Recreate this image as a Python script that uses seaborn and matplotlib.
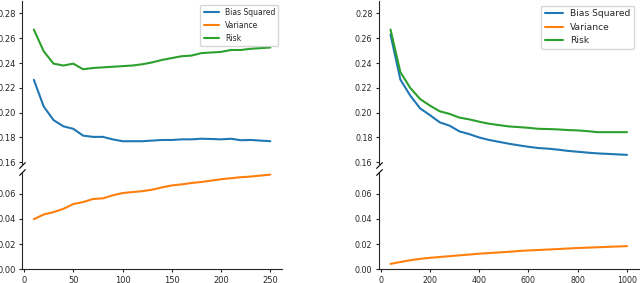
import numpy as np
import pandas as pd
import matplotlib
matplotlib.use("Agg")
import matplotlib.pyplot as plt
import seaborn as sns

sns.set_style("ticks")
plt.rcParams["font.family"] = ["DejaVu Sans"]

# left panel: x = 10..250
x_left = list(range(10, 251, 10))
bias_left = [0.2265, 0.205, 0.194, 0.189, 0.187, 0.1815, 0.1805, 0.1805, 0.1785, 0.177,
             0.177, 0.177, 0.1775, 0.178, 0.178, 0.1785, 0.1785, 0.179, 0.1788, 0.1785,
             0.179, 0.1778, 0.178, 0.1775, 0.177]
var_left = [0.0398, 0.0435, 0.0454, 0.048, 0.0518, 0.0534, 0.0558, 0.0563, 0.0587, 0.0605,
            0.0613, 0.062, 0.0632, 0.065, 0.0666, 0.0674, 0.0685, 0.0693, 0.0704, 0.0715,
            0.0723, 0.0731, 0.0736, 0.0744, 0.0752]
risk_left = [0.267, 0.2495, 0.2395, 0.238, 0.2395, 0.235, 0.236, 0.2365, 0.237, 0.2375,
             0.238, 0.239, 0.2405, 0.2425, 0.244, 0.2455, 0.246, 0.248, 0.2485, 0.249,
             0.2505, 0.2505, 0.2515, 0.252, 0.2525]

# right panel: x = 40..1000
x_right = list(range(40, 1001, 40))
bias_right = [0.263, 0.2267, 0.2138, 0.2035, 0.198, 0.1922, 0.1895, 0.1849, 0.1827, 0.180,
              0.178, 0.1765, 0.175, 0.1737, 0.1725, 0.1715, 0.171, 0.1702, 0.1692, 0.1685,
              0.1678, 0.1672, 0.1668, 0.1664, 0.166]
var_right = [0.0043, 0.0058, 0.0072, 0.0083, 0.0091, 0.0098, 0.0104, 0.0111, 0.0117, 0.0124,
             0.0129, 0.0134, 0.0139, 0.0145, 0.015, 0.0153, 0.0157, 0.0161, 0.0165, 0.0169,
             0.0172, 0.0175, 0.0178, 0.0181, 0.0184]
risk_right = [0.267, 0.2327, 0.22, 0.211, 0.2057, 0.2011, 0.199, 0.196, 0.1946, 0.1927,
              0.1911, 0.19, 0.1889, 0.1884, 0.1878, 0.187, 0.1868, 0.1865, 0.186, 0.1857,
              0.1851, 0.1843, 0.1843, 0.1843, 0.1843]

labels = ["Bias Squared", "Variance", "Risk"]
colors = sns.color_palette("tab10")[:3]

fig = plt.figure(figsize=(6.4, 2.83), dpi=100)

panels = [
    (x_left, [bias_left, var_left, risk_left], 0.0344, [0, 50, 100, 150, 200, 250], 6.0, 5.5),
    (x_right, [bias_right, var_right, risk_right], 0.5917, [0, 200, 400, 600, 800, 1000], 5.7, 6.6),
]

for xs, series, left, xticks, tick_fs, leg_fs in panels:
    ax_top = fig.add_axes([left, 0.4155, 0.4065, 0.581])
    ax_bot = fig.add_axes([left, 0.0484, 0.4065, 0.345], sharex=ax_top)

    for ax in (ax_top, ax_bot):
        for ys, lab, c in zip(series, labels, colors):
            sns.lineplot(x=xs, y=ys, color=c, label=lab, linewidth=1.5, ax=ax)
        ax.tick_params(labelsize=tick_fs, length=2.5, width=0.8, pad=2)
        sns.despine(ax=ax)

    ax_top.set_ylim(0.1575, 0.29)
    ax_bot.set_ylim(0, 0.0775)
    ax_top.set_yticks([0.16, 0.18, 0.20, 0.22, 0.24, 0.26, 0.28])
    ax_bot.set_yticks([0.00, 0.02, 0.04, 0.06])
    ax_bot.set_xticks(xticks)

    ax_top.spines["bottom"].set_visible(False)
    ax_top.tick_params(axis="x", bottom=False, labelbottom=False)

    ax_top.legend(loc="upper right", fontsize=leg_fs)
    ax_bot.get_legend().remove()

    # break marks on the left spine
    mk = dict(marker=[(-1, -1), (1, 1)], markersize=4.5, linestyle="none",
              color="k", mec="k", mew=0.8, clip_on=False)
    ax_top.plot([0], [0], transform=ax_top.transAxes, **mk)
    ax_bot.plot([0], [1], transform=ax_bot.transAxes, **mk)

plt.savefig("out.png", dpi=100)
